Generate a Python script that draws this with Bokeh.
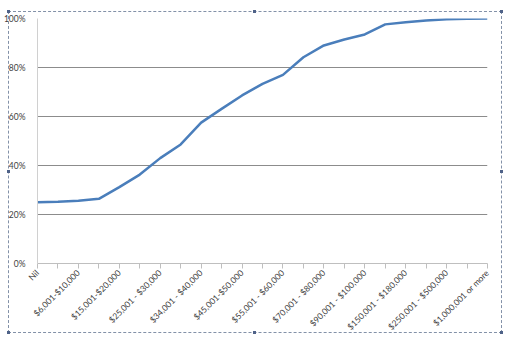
from bokeh.plotting import figure
from bokeh.models import Range1d, FixedTicker, NumeralTickFormatter
from bokeh.embed import file_html
from bokeh.resources import INLINE
import math

categories = [
    "Nil", "$1-$6,000", "$6,001-$10,000", "$10,001-$15,000", "$15,001-$20,000",
    "$20,001-$25,000", "$25,001 - $30,000", "$30,001 - $34,000", "$34,001 - $40,000",
    "$40,001 - $45,000", "$45,001-$50,000", "$50,001 - $55,000", "$55,001 - $60,000",
    "$60,001 - $70,000", "$70,001 - $80,000", "$80,001 - $90,000", "$90,001 - $100,000",
    "$100,001 - $150,000", "$150,001 - $180,000", "$180,001 - $250,000",
    "$250,001 - $500,000", "$500,001 - $1,000,000", "$1,000,001 or more",
]
cumulative_share = [
    0.250, 0.252, 0.256, 0.264, 0.312, 0.363, 0.430, 0.486, 0.575, 0.631,
    0.686, 0.733, 0.770, 0.842, 0.890, 0.914, 0.935, 0.976, 0.985, 0.992,
    0.997, 0.999, 1.000,
]
y_ticks = [0, 0.2, 0.4, 0.6, 0.8, 1.0]

xs = list(range(len(categories)))

frame_css = """
:host { position: relative; }
:host::after {
  content: ''; position: absolute; left: 8px; top: 11px; width: 492px; height: 320px;
  border: 1px dashed #8391a8; pointer-events: none; box-sizing: content-box;
}
:host::before {
  content: ''; position: absolute; left: 7px; top: 10px; width: 3px; height: 3px;
  background: #4f6288; z-index: 2; pointer-events: none;
  box-shadow: 246px 0 #4f6288, 493px 0 #4f6288, 0 160px #4f6288, 493px 160px #4f6288,
              0 321px #4f6288, 246px 321px #4f6288, 493px 321px #4f6288;
}
"""

p = figure(width=505, height=338, output_backend="svg", toolbar_location=None,
           x_range=Range1d(0, len(categories) - 1), y_range=Range1d(0, 1),
           min_border_left=36, min_border_right=18, min_border_top=18, min_border_bottom=75,
           stylesheets=[frame_css])
p.outline_line_color = None
p.background_fill_color = "white"
p.border_fill_color = "white"

p.line(xs, cumulative_share, line_color="#4a7ebb", line_width=2.5)

font = "Lato"
# x axis
p.xaxis.ticker = FixedTicker(ticks=xs)
p.xaxis.major_label_overrides = {i: (c if i % 2 == 0 else "") for i, c in enumerate(categories)}
p.xaxis.major_label_orientation = math.pi / 4
p.xaxis.major_label_text_font = font
p.xaxis.major_label_text_font_size = "8.5px"
p.xaxis.major_label_text_color = "#404040"
p.xaxis.axis_line_color = "#bfbfbf"
p.xaxis.major_tick_line_color = "#bfbfbf"
p.xaxis.major_tick_out = 5
p.xaxis.major_tick_in = 0
p.xaxis.minor_tick_line_color = None
p.xaxis.major_label_standoff = 3
p.xgrid.grid_line_color = None

# y axis
p.yaxis.ticker = FixedTicker(ticks=y_ticks)
p.yaxis.formatter = NumeralTickFormatter(format="0%")
p.yaxis.major_label_text_font = font
p.yaxis.major_label_text_font_size = "8.5px"
p.yaxis.major_label_text_color = "#404040"
p.yaxis.axis_line_color = "#d0d0d0"
p.yaxis.major_tick_line_color = None
p.yaxis.minor_tick_line_color = None
p.yaxis.major_label_standoff = 6
p.ygrid.grid_line_color = "#8c8c8c"
p.ygrid.grid_line_width = 1

open("out.html", "w").write(file_html(p, INLINE))
